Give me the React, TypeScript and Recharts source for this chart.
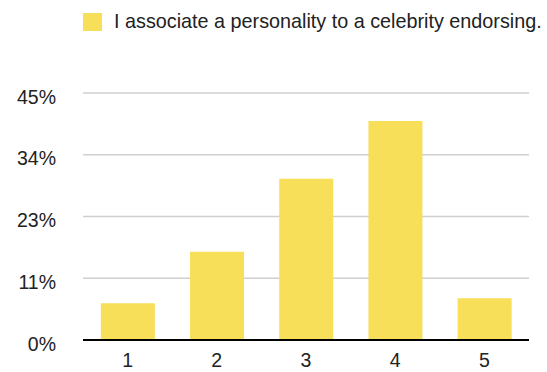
import React from "react";
import { BarChart, Bar, XAxis, YAxis, CartesianGrid, Legend } from "recharts";

// Share of responses for each rating, in percent
const ratings = ["1", "2", "3", "4", "5"];
const shares = [6.7, 16.1, 29.4, 39.9, 7.6];
const yTicks = [0, 11.25, 22.5, 33.75, 45];
const seriesName = "I associate a personality to a celebrity endorsing.";

const data = ratings.map((r, i) => ({ rating: r, value: shares[i] }));

const FONT = '"Liberation Sans", Arial, Helvetica, sans-serif';
const BAR_COLOR = "#F7DF5A";
const TEXT_COLOR = "#222";

const YTick = (props: any) => {
  const { x, y, payload } = props;
  return (
    <text x={x} y={y + 10.5} textAnchor="end" fontSize={19.5} fill={TEXT_COLOR} fontFamily={FONT}>
      {`${Math.round(payload.value)}%`}
    </text>
  );
};

const XTick = (props: any) => {
  const { x, y, payload } = props;
  return (
    <text x={x} y={y + 26.5} textAnchor="middle" fontSize={19.5} fill={TEXT_COLOR} fontFamily={FONT}>
      {payload.value}
    </text>
  );
};

const LegendBox = () => (
  <div style={{ position: "relative", width: 547, height: 40, fontFamily: FONT }}>
    <div
      style={{
        position: "absolute",
        left: 83,
        top: 13,
        width: 19,
        height: 18,
        background: BAR_COLOR,
      }}
    />
    <div
      style={{
        position: "absolute",
        left: 114,
        top: 10,
        fontSize: 19.8,
        lineHeight: "23px",
        color: TEXT_COLOR,
        whiteSpace: "nowrap",
      }}
    >
      {seriesName}
    </div>
  </div>
);

export default function App() {
  return (
    <div style={{ position: "absolute", left: 0, top: 0, background: "#fff" }}>
      <BarChart
        width={547}
        height={372}
        data={data}
        margin={{ top: 93, right: 18, bottom: 0, left: 0 }}
        barCategoryGap="20%"
      >
        <CartesianGrid vertical={false} stroke="#cfcfcf" strokeWidth={1.3} />
        <XAxis
          dataKey="rating"
          height={32}
          axisLine={{ stroke: "#000", strokeWidth: 2 }}
          tickLine={false}
          tickSize={0}
          tickMargin={0}
          tick={<XTick />}
        />
        <YAxis
          width={83}
          domain={[0, 45]}
          ticks={yTicks}
          axisLine={false}
          tickLine={false}
          tickSize={0}
          tickMargin={27}
          tick={<YTick />}
        />
        <Legend
          layout="horizontal"
          verticalAlign="middle"
          align="center"
          wrapperStyle={{ top: 0, left: 0, width: 547, height: 40 }}
          content={() => <LegendBox />}
        />
        <Bar dataKey="value" name={seriesName} fill={BAR_COLOR} isAnimationActive={false} />
      </BarChart>
    </div>
  );
}
